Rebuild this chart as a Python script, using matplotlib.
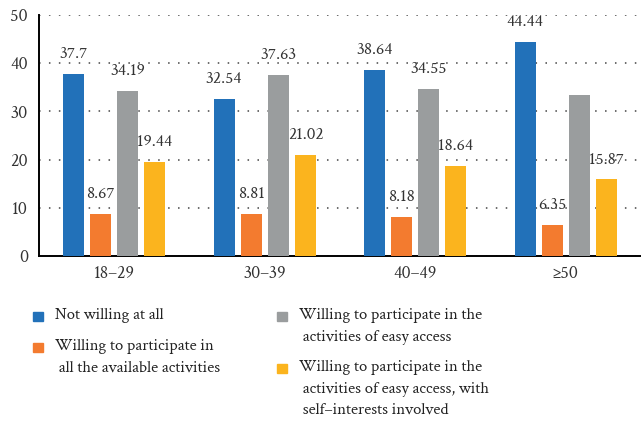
import matplotlib.pyplot as plt
from matplotlib.patches import Rectangle
import numpy as np

plt.rcParams['font.family'] = ['Crimson Text', 'DejaVu Serif']

# age groups and the share (%) of each answer
groups = ['18–29', '30–39', '40–49', '≥50']
not_willing = [37.7, 32.54, 38.64, 44.44]
all_activities = [8.67, 8.81, 8.18, 6.35]
easy_access = [34.19, 37.63, 34.55, 33.34]
self_interest = [19.44, 21.02, 18.64, 15.87]

series = [not_willing, all_activities, easy_access, self_interest]
# the last grey bar carries no value label in the source
shown = [[True] * 4, [True] * 4, [True, True, True, False], [True] * 4]

names = ['Not willing at all',
         'Willing to participate in\n all the available activities',
         'Willing to participate in the\n activities of easy access',
         'Willing to participate in the\n activities of easy access, with\n self–interests involved']
colors = ['#2271b9', '#f37b2f', '#9a9d9e', '#fbb41e']

fig = plt.figure(figsize=(6.41, 4.26), dpi=100)
ax = fig.add_axes([0.061, 0.399, 0.939, 0.566])

x = np.arange(len(groups))
width = 0.14
step = 0.18
for i, vals in enumerate(series):
    pos = x + (i - 1.5) * step
    ax.bar(pos, vals, width, color=colors[i], zorder=3)
    for p, v, s in zip(pos, vals, shown[i]):
        if s:
            ax.annotate(f'{v:g}', (p, v), xytext=(0, 14), textcoords='offset points',
                        ha='center', va='center', fontsize=12.5, color='#333333')

ax.set_xlim(-0.5, 3.5)
ax.set_ylim(0, 50)
ax.set_yticks(range(0, 51, 10))
ax.set_xticks(x)
ax.set_xticklabels(groups)
ax.tick_params(length=0, labelsize=13, colors='#333333')
ax.tick_params(axis='y', pad=8)
ax.tick_params(axis='x', pad=7)
ax.yaxis.grid(True, linestyle=(0, (1, 5.5)), color='#444444', linewidth=1.1)
ax.set_axisbelow(True)
for s in ['top', 'right']:
    ax.spines[s].set_visible(False)
ax.spines['left'].set_linewidth(1.4)
ax.spines['bottom'].set_linewidth(1.4)

# legend drawn by hand so the squares sit on the first line
W, H = 641, 426
spots = [(33, 312), (33, 343), (277, 312), (277, 364)]
for (px, py), name, c in zip(spots, names, colors):
    fig.add_artist(Rectangle((px / W, 1 - (py + 9) / H), 10 / W, 9 / H,
                             transform=fig.transFigure, color=c))
    fig.text((px + 22) / W, 1 - (py - 4) / H, name, va='top', ha='left',
             fontsize=12, color='#222222', linespacing=1.58)

fig.savefig('out.png', dpi=100)
